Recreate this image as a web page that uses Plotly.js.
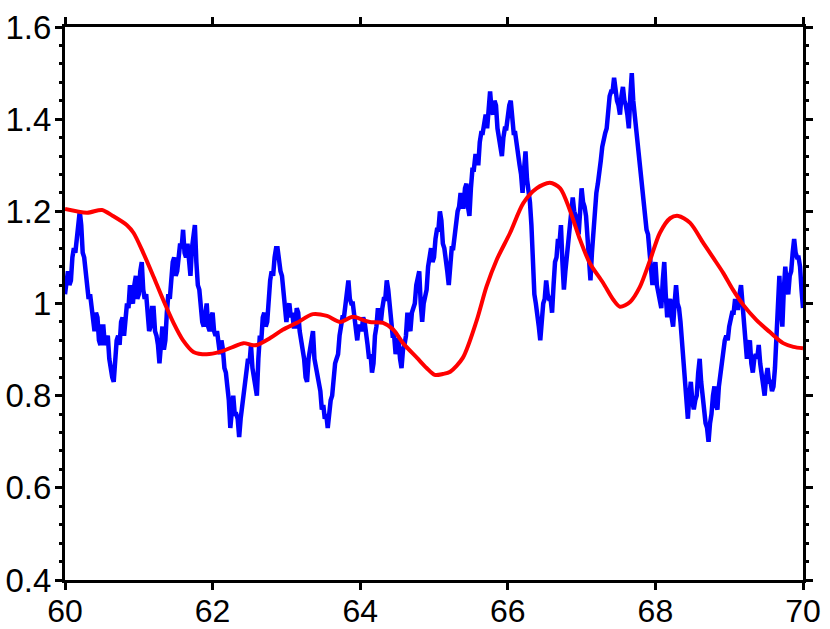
<!DOCTYPE html>
<html>
<head>
<meta charset="utf-8">
<script src="https://cdn.plot.ly/plotly-3.0.1.min.js"></script>
<style>
  body { margin: 0; background: #fff; }
  #chartDiv { width: 830px; height: 629px; }
</style>
</head>
<body>
<div id="chartDiv"></div>
<script>
// blue series, sampled every 0.02 starting at 60
var blueStart = 60
var blueStep = 0.02
var blueY = [
  1.02, 1.06, 1.07, 1.04, 1.05, 1.10, 1.12, 1.11, 1.15, 1.19,
  1.20, 1.17, 1.11, 1.10, 1.06, 1.02, 1.01, 1.02, 0.99, 0.95,
  0.94, 0.98, 0.97, 0.92, 0.91, 0.95, 0.95, 0.91, 0.92, 0.93,
  0.88, 0.85, 0.84, 0.83, 0.89, 0.92, 0.93, 0.91, 0.96, 0.97,
  0.93, 0.98, 1.00, 0.99, 1.04, 1.01, 1.00, 1.04, 1.06, 1.01,
  1.02, 1.07, 1.09, 1.03, 1.01, 1.02, 0.98, 0.94, 0.95, 0.99,
  0.99, 0.94, 0.93, 0.91, 0.87, 0.93, 0.95, 0.90, 0.92, 0.98,
  1.02, 1.01, 1.06, 1.09, 1.10, 1.06, 1.07, 1.11, 1.13, 1.12,
  1.16, 1.11, 1.10, 1.13, 1.08, 1.06, 1.12, 1.16, 1.17, 1.09,
  1.04, 1.03, 0.99, 0.96, 0.95, 0.99, 1.00, 0.95, 0.94, 0.97,
  0.98, 0.94, 0.93, 0.94, 0.90, 0.89, 0.92, 0.90, 0.86, 0.85,
  0.82, 0.79, 0.73, 0.78, 0.80, 0.76, 0.76, 0.75, 0.71, 0.75,
  0.78, 0.80, 0.84, 0.85, 0.88, 0.87, 0.91, 0.86, 0.84, 0.83,
  0.80, 0.88, 0.93, 0.92, 0.97, 0.98, 0.95, 0.96, 1.01, 1.05,
  1.07, 1.06, 1.10, 1.12, 1.12, 1.08, 1.07, 1.06, 1.03, 1.01,
  0.96, 0.99, 1.00, 0.97, 0.98, 0.95, 0.95, 0.99, 0.98, 0.94,
  0.92, 0.91, 0.88, 0.84, 0.83, 0.88, 0.90, 0.91, 0.94, 0.88,
  0.86, 0.85, 0.82, 0.81, 0.77, 0.78, 0.75, 0.76, 0.73, 0.77,
  0.79, 0.80, 0.84, 0.87, 0.88, 0.89, 0.93, 0.96, 0.97, 0.97,
  1.00, 1.04, 1.05, 1.01, 1.00, 1.00, 0.97, 0.93, 0.92, 0.95,
  0.95, 0.94, 0.97, 0.96, 0.92, 0.91, 0.88, 0.89, 0.85, 0.87,
  0.93, 0.95, 0.99, 0.97, 0.96, 0.99, 1.01, 1.01, 1.05, 1.03,
  1.00, 0.95, 0.93, 0.93, 0.89, 0.92, 0.92, 0.88, 0.86, 0.90,
  0.91, 0.93, 0.98, 0.95, 0.94, 0.98, 0.99, 1.00, 1.04, 1.06,
  1.07, 1.00, 0.96, 1.00, 1.02, 1.03, 1.08, 1.11, 1.12, 1.09,
  1.10, 1.14, 1.16, 1.16, 1.20, 1.18, 1.13, 1.12, 1.08, 1.07,
  1.04, 1.09, 1.12, 1.12, 1.15, 1.18, 1.20, 1.21, 1.24, 1.21,
  1.21, 1.25, 1.26, 1.21, 1.19, 1.25, 1.29, 1.29, 1.32, 1.32,
  1.30, 1.35, 1.37, 1.37, 1.40, 1.41, 1.38, 1.43, 1.46, 1.42,
  1.41, 1.44, 1.43, 1.38, 1.36, 1.35, 1.32, 1.36, 1.38, 1.38,
  1.41, 1.43, 1.44, 1.39, 1.37, 1.37, 1.34, 1.31, 1.30, 1.28,
  1.24, 1.29, 1.33, 1.27, 1.25, 1.22, 1.17, 1.09, 1.02, 1.00,
  0.96, 0.95, 0.92, 0.97, 1.00, 1.01, 1.05, 1.02, 1.01, 1.01,
  0.98, 1.04, 1.09, 1.10, 1.14, 1.13, 1.17, 1.09, 1.03, 1.07,
  1.10, 1.12, 1.17, 1.19, 1.23, 1.20, 1.19, 1.18, 1.15, 1.21,
  1.25, 1.22, 1.21, 1.19, 1.14, 1.08, 1.05, 1.11, 1.16, 1.19,
  1.24, 1.26, 1.30, 1.31, 1.34, 1.36, 1.37, 1.38, 1.42, 1.45,
  1.46, 1.46, 1.49, 1.45, 1.44, 1.43, 1.41, 1.45, 1.47, 1.44,
  1.43, 1.41, 1.38, 1.45, 1.50, 1.44, 1.41, 1.38, 1.33, 1.31,
  1.27, 1.24, 1.22, 1.20, 1.16, 1.15, 1.12, 1.07, 1.04, 1.07,
  1.09, 1.04, 1.02, 1.01, 0.99, 1.05, 1.09, 1.02, 0.97, 1.00,
  1.01, 0.97, 0.95, 1.00, 1.04, 1.00, 0.99, 0.96, 0.92, 0.89,
  0.84, 0.80, 0.75, 0.80, 0.83, 0.79, 0.77, 0.79, 0.80, 0.85,
  0.88, 0.83, 0.79, 0.77, 0.74, 0.73, 0.70, 0.74, 0.76, 0.80,
  0.82, 0.78, 0.77, 0.82, 0.85, 0.86, 0.89, 0.92, 0.93, 0.92,
  0.95, 0.97, 0.98, 0.98, 1.01, 0.99, 0.99, 1.02, 1.04, 1.00,
  0.96, 0.91, 0.88, 0.91, 0.92, 0.87, 0.85, 0.88, 0.89, 0.88,
  0.91, 0.87, 0.85, 0.83, 0.80, 0.84, 0.86, 0.83, 0.83, 0.81,
  0.82, 0.86, 0.92, 1.00, 1.06, 0.99, 0.95, 1.03, 1.08, 1.04,
  1.02, 1.06, 1.07, 1.11, 1.14, 1.11, 1.10, 1.10, 1.08, 1.03,
  0.99
]

// red smooth series
var redX = [60.00, 60.30, 60.50, 60.65, 60.84, 60.93, 61.06, 61.20, 61.33, 61.47,
            61.60, 61.74, 61.92, 62.10, 62.28, 62.42, 62.53, 62.60, 62.78, 62.95,
            63.14, 63.36, 63.55, 63.73, 63.90, 64.04, 64.13, 64.31, 64.45, 64.58,
            64.77, 64.90, 65.01, 65.12, 65.22, 65.39, 65.58, 65.71, 65.85, 66.03,
            66.21, 66.39, 66.57, 66.71, 66.84, 66.98, 67.11, 67.29, 67.43, 67.52,
            67.66, 67.79, 67.93, 68.06, 68.20, 68.31, 68.47, 68.65, 68.78, 68.92,
            69.05, 69.19, 69.37, 69.55, 69.73, 69.87, 70.00]
var redY = [1.205, 1.197, 1.203, 1.190, 1.170, 1.153, 1.110, 1.058, 1.008, 0.958,
            0.920, 0.895, 0.890, 0.895, 0.906, 0.914, 0.910, 0.910, 0.925, 0.943,
            0.958, 0.977, 0.973, 0.960, 0.971, 0.964, 0.960, 0.958, 0.943, 0.914,
            0.882, 0.860, 0.845, 0.847, 0.852, 0.882, 0.964, 1.036, 1.095, 1.153,
            1.218, 1.250, 1.262, 1.250, 1.203, 1.138, 1.088, 1.045, 1.008, 0.993,
            1.004, 1.036, 1.095, 1.153, 1.185, 1.190, 1.175, 1.131, 1.100, 1.066,
            1.030, 0.997, 0.964, 0.938, 0.914, 0.906, 0.903]

var blueX = blueY.map((v, i) => +(blueStart + i*blueStep).toFixed(2))

var trace1 = {
  type: 'scatter',
  mode: 'lines',
  x: blueX,
  y: blueY,
  line: {color: '#0000ff', width: 4.5},
  hoverinfo: 'skip'
}

var trace2 = {
  type: 'scatter',
  mode: 'lines',
  x: redX,
  y: redY,
  line: {color: '#ff0000', width: 4, shape: 'spline', smoothing: 0.8},
  hoverinfo: 'skip'
}

var axisFont = {family: 'Liberation Sans, Arial, sans-serif', size: 33, color: '#000'}

var layout = {
  width: 830,
  height: 629,
  showlegend: false,
  margin: {l: 65, r: 27, t: 27, b: 49},
  paper_bgcolor: '#fff',
  plot_bgcolor: '#fff',
  xaxis: {
    range: [60, 70],
    tick0: 60,
    dtick: 2,
    ticks: 'outside',
    ticklen: 7,
    tickwidth: 3,
    tickcolor: '#000',
    ticklabelstandoff: -6,
    showline: true,
    linewidth: 3,
    linecolor: '#000',
    mirror: 'ticks',
    showgrid: false,
    zeroline: false,
    tickfont: {family: 'Liberation Sans, Arial, sans-serif', size: 32, color: '#000'},
    automargin: false
  },
  yaxis: {
    range: [0.4, 1.6],
    tick0: 0.4,
    dtick: 0.2,
    ticks: 'outside',
    ticklen: 7,
    tickwidth: 3,
    tickcolor: '#000',
    ticklabelstandoff: -3,
    minor: {dtick: 0.04, ticks: 'outside', ticklen: 3, tickwidth: 3, tickcolor: '#000'},
    showline: true,
    linewidth: 3,
    linecolor: '#000',
    mirror: 'ticks',
    showgrid: false,
    zeroline: false,
    tickfont: axisFont,
    automargin: false
  }
}

Plotly.newPlot('chartDiv', [trace1, trace2], layout, {staticPlot: true})
</script>
</body>
</html>
